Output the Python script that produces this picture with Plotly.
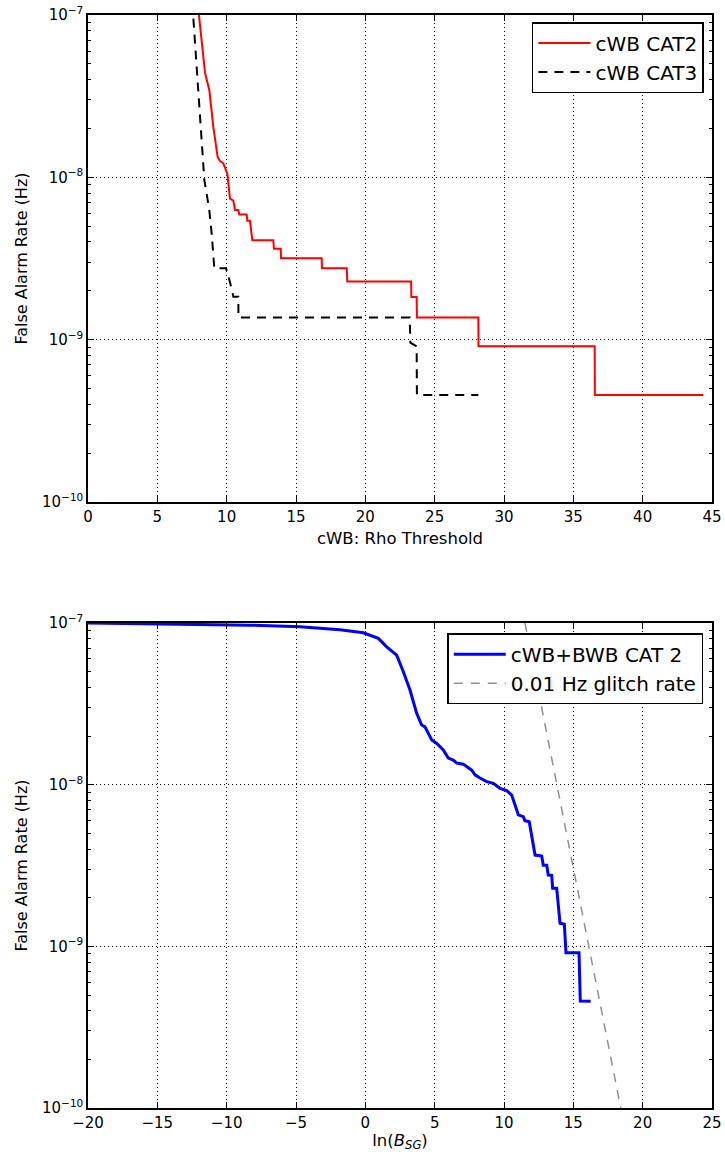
import plotly.graph_objects as go

# ---------------- Top panel: cWB false alarm rate vs rho threshold ----------------
cat2_rho = [8.0, 8.44, 8.75, 9.04, 9.35, 9.52, 9.76, 10.05, 10.24, 10.48, 10.60, 10.84,
            10.91, 11.44, 11.49, 11.68, 11.85, 13.36, 13.41, 13.90, 13.92, 16.85, 16.87,
            18.66, 18.70, 23.30, 23.32, 23.70, 23.72, 28.15, 28.16, 36.54, 36.55, 44.37]
cat2_far = [1.0e-7, 4.4e-8, 3.44e-8, 2.04e-8, 1.33e-8, 1.26e-8, 1.22e-8, 1.05e-8, 7.4e-9,
            7.2e-9, 6.3e-9, 6.3e-9, 5.9e-9, 5.9e-9, 5.4e-9, 5.4e-9, 4.1e-9, 4.1e-9, 3.63e-9,
            3.63e-9, 3.18e-9, 3.18e-9, 2.75e-9, 2.75e-9, 2.28e-9, 2.28e-9, 1.83e-9, 1.83e-9,
            1.37e-9, 1.37e-9, 9.1e-10, 9.1e-10, 4.57e-10, 4.57e-10]

cat3_rho = [7.6, 7.84, 8.08, 8.24, 8.39, 8.56, 8.75, 8.92, 9.03, 9.11, 9.95, 10.05, 10.40,
            10.48, 10.84, 10.85, 23.20, 23.25, 23.70, 23.72, 28.15]
cat3_far = [9.5e-8, 4.8e-8, 2.6e-8, 1.61e-8, 9.6e-9, 7.9e-9, 6.25e-9, 4.49e-9, 3.38e-9,
            2.75e-9, 2.75e-9, 2.6e-9, 2.0e-9, 1.84e-9, 1.84e-9, 1.37e-9, 1.37e-9, 9.6e-10,
            9.1e-10, 4.57e-10, 4.57e-10]

# ---------------- Bottom panel: cWB+BWB vs ln(B_SG) ----------------
bsg_ln = [-20.0, -11.92, -8.32, -4.71, -1.83, -0.147, 0.935, 1.54, 2.26, 2.74, 3.22, 3.70,
          4.06, 4.30, 4.79, 5.15, 5.62, 5.98, 6.34, 6.59, 7.06, 7.67, 7.91, 8.27, 8.75,
          9.23, 9.71, 10.19, 10.55, 10.92, 11.03, 11.39, 11.51, 11.82, 12.24, 12.72,
          12.83, 13.08, 13.19, 13.44, 13.51, 13.80, 14.04, 14.35, 14.47, 15.41, 15.50, 16.25]
bsg_far = [1.0e-7, 9.86e-8, 9.7e-8, 9.5e-8, 9.1e-8, 8.7e-8, 8.04e-8, 7.13e-8, 6.33e-8,
           5.0e-8, 3.85e-8, 2.77e-8, 2.34e-8, 2.28e-8, 1.89e-8, 1.80e-8, 1.64e-8, 1.46e-8,
           1.42e-8, 1.36e-8, 1.34e-8, 1.23e-8, 1.15e-8, 1.10e-8, 1.045e-8, 1.02e-8, 9.5e-9,
           9.2e-9, 8.63e-9, 6.98e-9, 6.5e-9, 6.34e-9, 5.99e-9, 5.9e-9, 3.67e-9, 3.62e-9,
           3.18e-9, 3.18e-9, 2.76e-9, 2.75e-9, 2.29e-9, 2.29e-9, 1.39e-9, 1.37e-9, 9.14e-10,
           9.14e-10, 4.59e-10, 4.57e-10]

glitch_ln = [11.51, 18.42]
glitch_far = [1.0e-7, 1.0e-10]

top_xticks = [0, 5, 10, 15, 20, 25, 30, 35, 40, 45]
bottom_xticks = [-20, -15, -10, -5, 0, 5, 10, 15, 20, 25]
y_decades = [1e-10, 1e-9, 1e-8, 1e-7]
y_ticktext = ["10<sup>−10</sup>", "10<sup>−9</sup>", "10<sup>−8</sup>", "10<sup>−7</sup>"]

FONT = "DejaVu Sans"
minor_vals = [m * d for d in (1e-10, 1e-9, 1e-8) for m in range(2, 10)]

fig = go.Figure()
fig.add_trace(go.Scatter(x=cat2_rho, y=cat2_far, mode="lines", name="cWB CAT2",
                         line=dict(color="#ff0000", width=2),
                         xaxis="x", yaxis="y", legend="legend"))
fig.add_trace(go.Scatter(x=cat3_rho, y=cat3_far, mode="lines", name="cWB CAT3",
                         line=dict(color="black", width=2, dash="9px,7px"),
                         xaxis="x", yaxis="y", legend="legend"))
fig.add_trace(go.Scatter(x=bsg_ln, y=bsg_far, mode="lines", name="cWB+BWB CAT 2",
                         line=dict(color="#0000ff", width=3),
                         xaxis="x2", yaxis="y2", legend="legend2"))
fig.add_trace(go.Scatter(x=glitch_ln, y=glitch_far, mode="lines", name="0.01 Hz glitch rate",
                         line=dict(color="#909090", width=1.5, dash="9px,8px"),
                         xaxis="x2", yaxis="y2", legend="legend2"))

grid = dict(showgrid=True, gridcolor="black", gridwidth=0.7, griddash="1px,3px")
common_x = dict(showline=True, linecolor="black", linewidth=1.5, mirror="ticks",
                ticks="inside", ticklen=6, tickcolor="black", tickwidth=1,
                tickfont=dict(family=FONT, size=15, color="black"),
                zeroline=False, automargin=False, **grid)
common_y = dict(type="log", range=[-10, -7], tickvals=y_decades, ticktext=y_ticktext,
                showline=True, linecolor="black", linewidth=1.5, mirror="ticks",
                ticks="inside", ticklen=6, tickcolor="black", tickwidth=1,
                minor=dict(tickvals=minor_vals, ticks="inside", ticklen=3,
                           tickcolor="black", showgrid=False),
                tickfont=dict(family=FONT, size=15, color="black"),
                zeroline=False, automargin=False,
                title=dict(text="False Alarm Rate (Hz)", standoff=10,
                           font=dict(family=FONT, size=16, color="black")),
                **grid)

legend_style = dict(xanchor="right", yanchor="top", bgcolor="white",
                    bordercolor="black", borderwidth=1.5, itemwidth=52,
                    font=dict(family=FONT, size=20, color="black"))

fig.update_layout(
    width=725, height=1152,
    margin=dict(l=88, r=13, t=15, b=44),
    paper_bgcolor="white", plot_bgcolor="white",
    font=dict(family=FONT, color="black"),
    xaxis=dict(domain=[0, 1], anchor="y", range=[0, 45], tickvals=top_xticks,
               title=dict(text="cWB: Rho Threshold", standoff=8,
                          font=dict(family=FONT, size=16.5, color="black")),
               **common_x),
    yaxis=dict(domain=[0.5544, 1], anchor="x", **common_y),
    xaxis2=dict(domain=[0, 1], anchor="y2", range=[-20, 25], tickvals=bottom_xticks,
                title=dict(text="ln(<i>B</i><sub><i>SG</i></sub>)", standoff=8,
                           font=dict(family=FONT, size=16.5, color="black")),
                **common_x),
    yaxis2=dict(domain=[0, 0.4437], anchor="x2", **common_y),
    legend=dict(x=0.987, y=0.9935, **legend_style),
    legend2=dict(x=0.986, y=0.4343, **legend_style),
    showlegend=True,
)

fig.write_html("out.html")
